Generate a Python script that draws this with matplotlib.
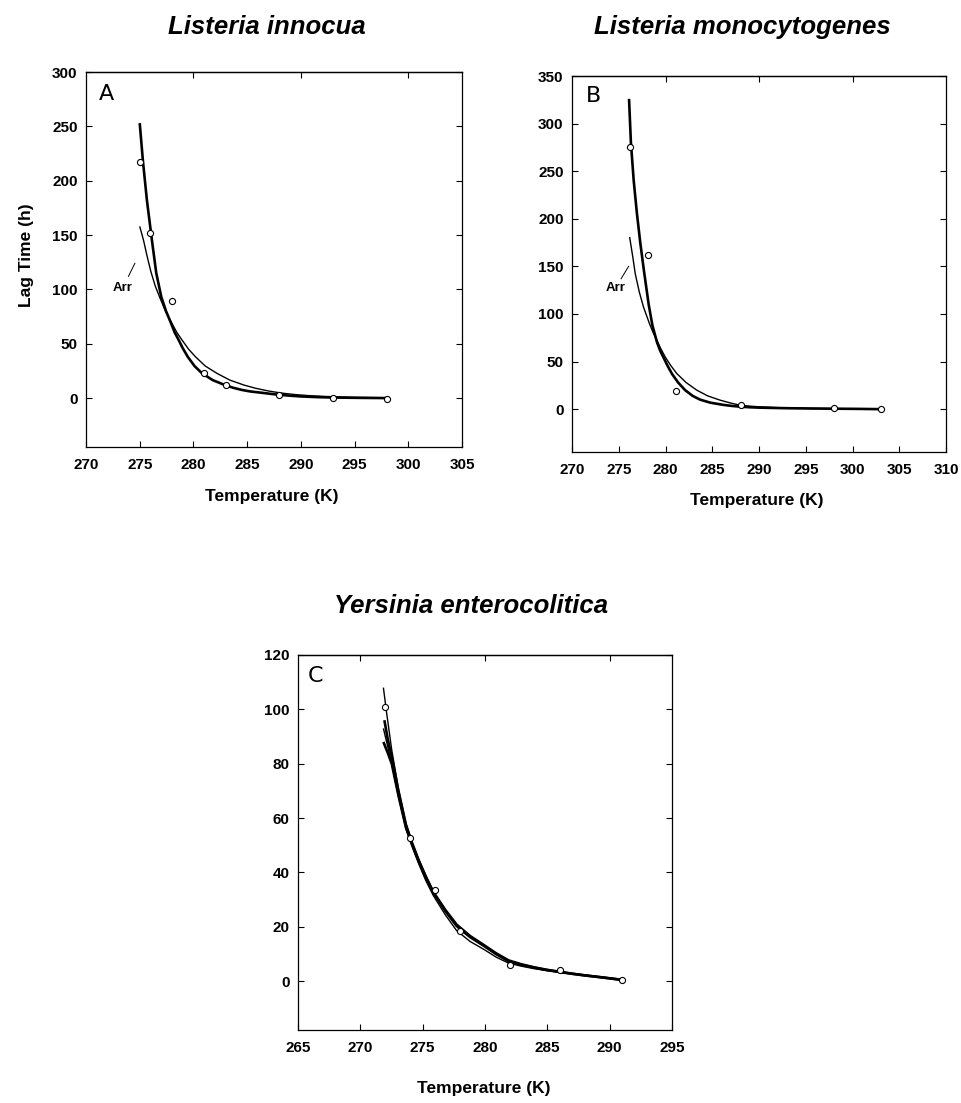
import matplotlib
matplotlib.use("Agg")
import matplotlib.pyplot as plt
import numpy as np

plt.rcParams['font.family'] = ['Liberation Sans', 'DejaVu Sans']

# ---------------- Data ----------------
# Panel A: Listeria innocua
a_temp = [275, 276, 278, 281, 283, 288, 293, 298]
a_lag = [217, 152, 89, 22.7, 12, 3, 0.3, -0.5]
a_fit_T = [275.0, 275.3, 275.67, 276.14, 276.54, 277.01, 277.45, 277.91, 278.25,
           278.63, 279.0, 279.47, 280.1, 280.81, 281.8, 282.93, 283.7, 284.5,
           285.3, 286.26, 287.1, 288.0, 289.0, 290.0, 291.5, 293.0, 295.5, 298.0]
a_fit_L = [253, 218, 182, 145, 115, 93, 80, 69, 60.5, 53.4, 46, 38, 29.5, 22.7,
           16.5, 12, 9.5, 7.5, 6.1, 5, 4, 3, 2.2, 1.5, 0.9, 0.5, 0.2, 0]
a_arr_T = [275.0, 275.36, 275.7, 276.05, 276.45, 276.85, 277.4, 278.0, 278.45,
           278.94, 279.55, 280.19, 281.1, 282.2, 283.4, 284.7, 285.8, 287.0,
           288.2, 289.5, 290.7, 292.0, 293.5, 295.0, 298.0]
a_arr_L = [158, 145, 130, 116, 103, 93, 80, 68.7, 60.5, 53.4, 45, 38, 29.5, 22.7,
           16.5, 12, 9, 6.5, 4.6, 3.2, 2.3, 1.6, 1.1, 0.7, 0.3]

# Panel B: Listeria monocytogenes
b_temp = [276.2, 278.1, 281.1, 288.1, 298.0, 303.0]
b_lag = [275, 162, 19.5, 4, 0.7, 0]
b_fit_T = [276.1, 276.3, 276.6, 276.95, 277.3, 277.7, 278.2, 278.6, 279.1, 279.45,
           279.8, 280.25, 280.7, 281.35, 282.1, 282.9, 283.7, 284.8, 286.2, 287.1,
           288.0, 289.0, 290.0, 291.5, 293.0, 295.5, 298.0, 300.5, 303.0]
b_fit_L = [326, 280, 240, 205, 175, 145, 110, 88, 70, 61, 54, 45, 37, 28, 20, 14,
           10, 6.8, 4.5, 3.4, 2.6, 2.0, 1.6, 1.3, 1.0, 0.7, 0.5, 0.3, 0]
b_arr_T = [276.16, 276.5, 276.76, 277.2, 277.64, 278.28, 278.65, 279.07, 279.5,
           279.96, 280.55, 281.2, 282.2, 283.34, 284.5, 285.83, 286.9, 287.96,
           289.0, 290.0, 291.5, 293.0, 295.5, 298.0, 300.5, 303.0]
b_arr_L = [181, 160, 142.5, 123, 107.5, 90, 81, 72.5, 63.5, 55, 46, 37.5, 28, 20,
           14, 9.5, 6.6, 4.2, 3.2, 2.5, 1.8, 1.2, 0.8, 0.5, 0.3, 0]

# Panel C: Yersinia enterocolitica
c_temp = [272, 274, 276, 278, 282, 286, 291]
c_lag = [101, 52.5, 33.5, 18.5, 6, 4, 0.5]
c_fit1_T = [271.85, 272.1, 272.52, 273.05, 273.66, 274.15, 274.65, 275.25, 275.85,
            276.8, 277.72, 278.8, 279.93, 280.9, 281.9, 282.9, 283.9, 284.9,
            285.9, 287.0, 288.0, 289.5, 290.9]
c_fit1_L = [108, 99, 85, 71, 58, 51, 45, 38.5, 33, 26, 20.5, 16.3, 13, 10, 7.5,
            6.1, 5, 4.2, 3.5, 2.8, 2.2, 1.4, 0.6]
c_fit2_T = [271.93, 272.2, 272.52, 273.05, 273.66, 274.15, 274.65, 275.25, 275.85,
            276.8, 277.72, 278.8, 279.93, 280.9, 281.9, 282.9, 283.9, 284.9,
            285.9, 287.0, 288.0, 289.5, 290.9]
c_fit2_L = [96, 89, 82.5, 70, 57.5, 50.8, 44.8, 38.4, 32.6, 25.9, 20.3, 16.2,
            12.9, 9.9, 7.3, 6.0, 5, 4.1, 3.4, 2.7, 2.1, 1.3, 0.5]
c_fit3_T = [271.85, 272.2, 272.52, 273.05, 273.66, 274.15, 274.65, 275.25, 275.85,
            276.8, 277.72, 278.8, 279.93, 280.9, 281.9, 282.9, 283.9, 284.9,
            285.9, 287.0, 288.0, 289.5, 290.9]
c_fit3_L = [88, 84, 80, 68.5, 56.5, 50.3, 44.5, 38.4, 32.8, 26.3, 20.8, 16.6,
            13.2, 10.2, 7.6, 6.2, 5.1, 4.2, 3.5, 2.7, 2.1, 1.3, 0.5]
c_fit4_T = [271.85, 272.52, 273.05, 273.66, 274.15, 274.65, 275.25, 275.85, 276.8,
            277.72, 278.8, 279.93, 280.9, 281.9, 282.9, 283.9, 284.9, 285.9,
            287.0, 288.0, 289.5, 290.9]
c_fit4_L = [93, 80, 68, 56, 49.5, 43.5, 37, 31.5, 24.5, 18.6, 14.6, 11.6, 8.8,
            6.6, 5.5, 4.6, 3.9, 3.3, 2.7, 2.1, 1.3, 0.5]

titles = ["Listeria innocua", "Listeria monocytogenes", "Yersinia enterocolitica"]
panel_letters = ["A", "B", "C"]
xlabel = "Temperature (K)"
ylabel = "Lag Time (h)"

# ---------------- Figure ----------------
W, H = 961, 1103
fig = plt.figure(figsize=(W / 100, H / 100), dpi=100)


def rect(left, top, right, bottom):
    return [left / W, 1 - bottom / H, (right - left) / W, (bottom - top) / H]


axA = fig.add_axes(rect(86, 72, 462, 447))
axB = fig.add_axes(rect(572, 76, 946, 452))
axC = fig.add_axes(rect(298, 655, 672, 1030))

thick = 1.9
thin = 1.0
mk = dict(marker='o', ms=4.4, mfc='white', mec='black', mew=0.8, ls='none', zorder=5)
lkw_line = dict(color='black', solid_joinstyle='round', solid_capstyle='butt')


def style(ax, xlim, ylim, xt, yt, top_ticks):
    ax.set_xlim(*xlim)
    ax.set_ylim(*ylim)
    ax.set_xticks(xt)
    ax.set_yticks(yt)
    ax.tick_params(direction='in', length=4, width=0.8, top=False, right=True,
                   labelsize=11, pad=8)
    ax.tick_params(axis='y', pad=6)
    for lab in ax.get_xticklabels() + ax.get_yticklabels():
        lab.set_fontweight('bold')
    for s in ax.spines.values():
        s.set_linewidth(0.9)
    sec = ax.secondary_xaxis('top')
    sec.set_xticks(top_ticks)
    sec.tick_params(direction='in', length=4, width=0.8, labeltop=False)
    sec.spines['top'].set_linewidth(0.9)


# Panel A
axA.plot(a_fit_T, a_fit_L, lw=thick, **lkw_line)
axA.plot(a_arr_T, a_arr_L, lw=thin, **lkw_line)
axA.plot(a_temp, a_lag, **mk)
style(axA, (270, 305), (-45, 300), range(270, 306, 5), range(0, 301, 50),
      [280, 290, 300])
axA.text(273.4, 101, "Arr", fontsize=9.5, fontweight='bold', ha='center', va='center')
axA.plot([273.95, 274.55], [112, 124], color='black', lw=0.7)
axA.text(271.2, 280, panel_letters[0], fontsize=16, family='DejaVu Sans',
         ha='left', va='center')

# Panel B
axB.plot(b_fit_T, b_fit_L, lw=thick, **lkw_line)
axB.plot(b_arr_T, b_arr_L, lw=thin, **lkw_line)
axB.plot(b_temp, b_lag, **mk)
style(axB, (270, 310), (-45, 350), range(270, 311, 5), range(0, 351, 50),
      [280, 290, 300])
axB.text(274.7, 127, "Arr", fontsize=9.5, fontweight='bold', ha='center', va='center')
axB.plot([275.25, 276.05], [137, 150], color='black', lw=0.7)
axB.text(271.5, 329, panel_letters[1], fontsize=16, family='DejaVu Sans',
         ha='left', va='center')

# Panel C
axC.plot(c_fit1_T, c_fit1_L, lw=thin, **lkw_line)
axC.plot(c_fit2_T, c_fit2_L, lw=thick, **lkw_line)
axC.plot(c_fit3_T, c_fit3_L, lw=thick, **lkw_line)
axC.plot(c_fit4_T, c_fit4_L, lw=thin, **lkw_line)
axC.plot(c_temp, c_lag, **mk)
style(axC, (265, 295), (-18, 120), range(265, 296, 5), range(0, 121, 20),
      [270, 280, 290])
axC.text(265.8, 112.3, panel_letters[2], fontsize=16, family='DejaVu Sans',
         ha='left', va='center')

# Titles
tkw = dict(fontsize=18.5, fontweight='bold', fontstyle='italic', ha='center', va='center')
fig.text(267 / W, 1 - 27 / H, titles[0], **tkw)
fig.text(742 / W, 1 - 27 / H, titles[1], **tkw)
fig.text(471 / W, 1 - 606 / H, titles[2], **tkw)

# Axis labels
lkw = dict(fontsize=12.5, fontweight='bold', ha='center', va='center')
fig.text(272 / W, 1 - 496 / H, xlabel, **lkw)
fig.text(757 / W, 1 - 501 / H, xlabel, **lkw)
fig.text(484 / W, 1 - 1089 / H, xlabel, **lkw)
fig.text(27 / W, 1 - 255 / H, ylabel, rotation=90, **lkw)

fig.savefig("out.png", dpi=100)
